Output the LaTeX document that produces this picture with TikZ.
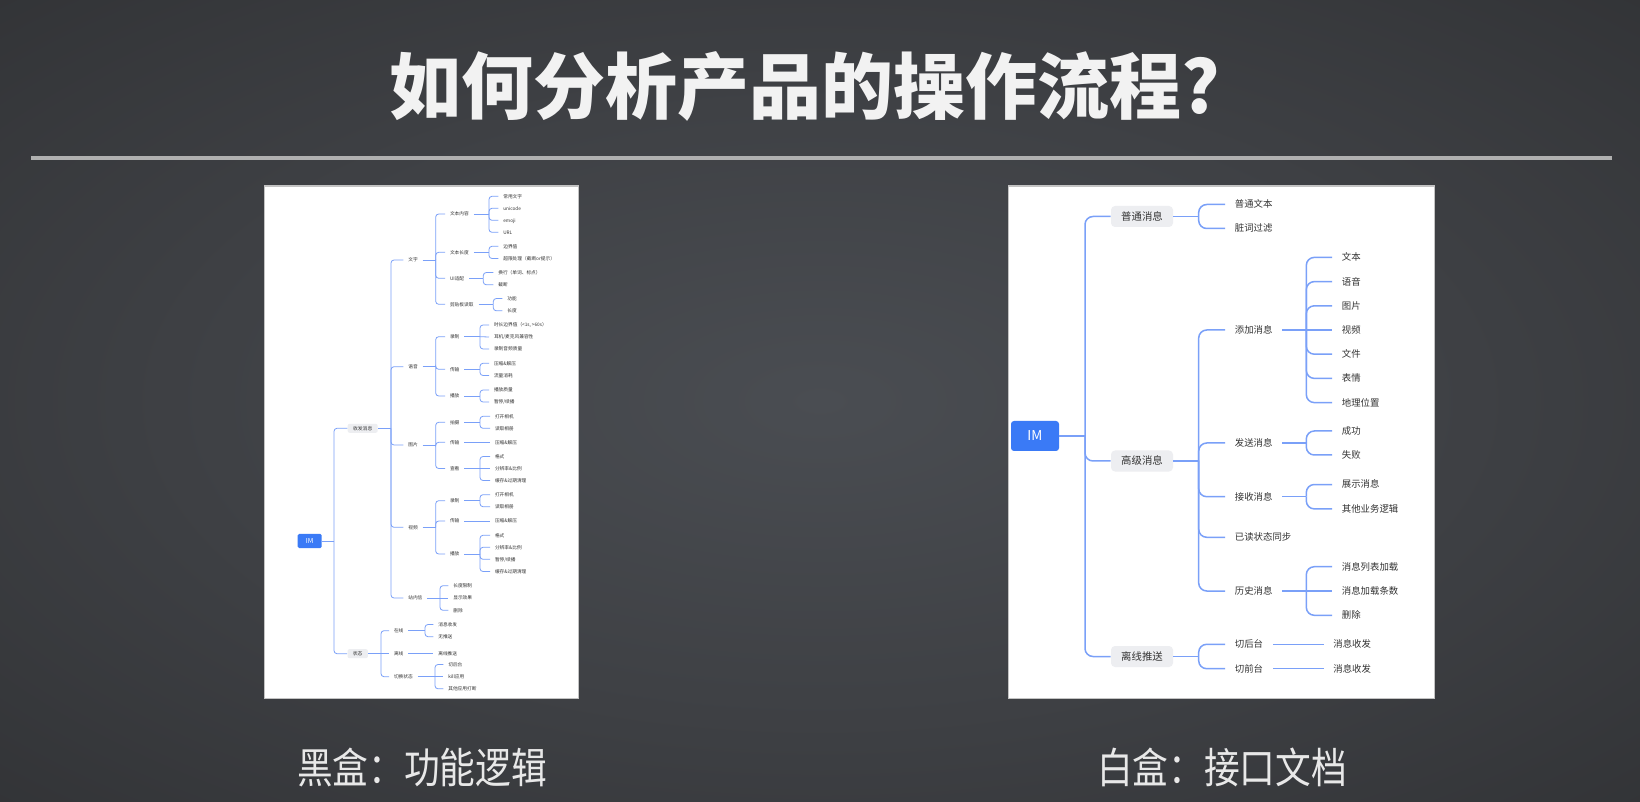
\documentclass[tikz,border=0pt]{standalone}
\usepackage{graphicx}
\usepackage{fontspec}
\setmainfont{Noto Sans CJK SC}
\usetikzlibrary{calc}

\definecolor{bgA}{RGB}{74,77,82}
\definecolor{bgB}{RGB}{62,64,68}
\definecolor{bgC}{RGB}{40,41,43}
\definecolor{bgD}{RGB}{30,31,32}
\definecolor{titlewhite}{RGB}{242,242,242}
\definecolor{labelwhite}{RGB}{232,232,232}
\definecolor{rulegrey}{RGB}{176,176,176}
\definecolor{panelrule}{RGB}{195,195,195}
\definecolor{linkblue}{RGB}{122,160,248}
\definecolor{imblue}{RGB}{58,122,246}
\definecolor{boxgrey}{RGB}{237,238,241}
\definecolor{ink}{RGB}{51,51,51}

\pgfdeclareradialshading{bgglow}{\pgfpoint{0bp}{0bp}}{%
  color(0bp)=(bgA); color(20bp)=(bgB); color(50bp)=(bgC); color(75bp)=(bgD)}

\newcommand\fsz[1]{\fontsize{#1}{#1}\selectfont}

% parent -> vertical fork at x=#2 -> each child (curved junctions)
\newcommand\mmfork[4]{%
  \draw[#3] (#1.east) -- (#1.east -| #2,0);
  \foreach \c in {#4} {\draw[#3] (#1.east -| #2,0) |- (\c.west);}%
}
% child sitting level with the fork point
\newcommand\mmflat[4]{%
  \foreach \c in {#4} {\draw[#3] (#1.east -| #2,0) -- (\c.west);}%
}

\tikzset{
  rim/.style={fill=imblue, rounded corners=1.5pt, minimum width=24pt,
    minimum height=15pt, inner sep=0pt, text=white, font=\fsz{6.8pt}},
  rbox/.style={fill=boxgrey, rounded corners=2pt, minimum width=31pt,
    minimum height=10.5pt, inner sep=0pt, text=ink, font=\fsz{5.2pt},
    text height=4.26pt, text depth=0.42pt},
  rtxt/.style={anchor=west, inner xsep=4.75pt, inner ysep=0.5pt, text=ink,
    font=\fsz{4.7pt}, text height=3.85pt, text depth=0.38pt},
  rlink/.style={draw=linkblue, line width=0.75pt, rounded corners=4pt},
  lim/.style={fill=imblue, rounded corners=0.8pt, minimum width=12pt,
    minimum height=7.15pt, inner sep=0pt, text=white, font=\fsz{3.4pt}},
  lbox/.style={fill=boxgrey, rounded corners=1pt, minimum height=4.5pt,
    inner xsep=2.7pt, inner ysep=0pt, text=ink, font=\fsz{2.4pt},
    text height=1.97pt, text depth=0.19pt},
  ltxt/.style={anchor=west, inner xsep=2.3pt, inner ysep=0.2pt, text=ink,
    font=\fsz{2.35pt}, text height=1.93pt, text depth=0.19pt},
  llink/.style={draw=linkblue, line width=0.4pt, rounded corners=1.5pt},
  panel/.style={fill=white, draw=panelrule, line width=0.75pt},
}

\begin{document}
\begin{tikzpicture}[x=0.5pt, y=-0.5pt]
\useasboundingbox (0,0) rectangle (1640,802);
\shade[shading=bgglow] (0,0) rectangle (1640,802);

% heading and rule
\node[font=\fsz{36pt}\bfseries, text=titlewhite, inner sep=0pt,
  text height=29.5pt, text depth=2.9pt] (title) at (805,87) {如何分析产品的操作流程?};
\fill[rulegrey] (31,155.6) rectangle (1612,160.4);

% the two sheets
\path[panel] (264.6,186.2) rectangle (578.4,698.7);
\path[panel] (1008.3,186.2) rectangle (1434.5,698.7);

% captions
\node[font=\fsz{21pt}, text=labelwhite, inner sep=0pt] (capL) at (422,767)
  {\scalebox{0.85}[1]{黑盒：功能逻辑}};
\node[font=\fsz{21pt}, text=labelwhite, inner sep=0pt] (capR) at (1222,767)
  {\scalebox{0.85}[1]{白盒：接口文档}};

% ---------------- interface map (right sheet) ----------------
\node[rim] (R) at (1035,436) {IM};
\node[rbox] (Ra) at (1142,216.5) {普通消息};
\node[rbox] (Rb) at (1142,461) {高级消息};
\node[rbox] (Rc) at (1142,656.5) {离线推送};
\mmfork{R}{1085}{rlink}{Ra,Rb,Rc}

\node[rtxt] (Ra1) at (1225,204.5) {普通文本};
\node[rtxt] (Ra2) at (1225,228.5) {脏词过滤};
\mmfork{Ra}{1198.7}{rlink}{Ra1,Ra2}

\node[rtxt] (Rb1) at (1225,330) {添加消息};
\node[rtxt] (Rb2) at (1225,443) {发送消息};
\node[rtxt] (Rb3) at (1225,496.7) {接收消息};
\node[rtxt] (Rb4) at (1225,537.3) {已读状态同步};
\node[rtxt] (Rb5) at (1225,591) {历史消息};
\mmfork{Rb}{1198.7}{rlink}{Rb1,Rb2,Rb3,Rb4,Rb5}

\node[rtxt] (Rb1a) at (1332,257.4) {文本};
\node[rtxt] (Rb1b) at (1332,281.6) {语音};
\node[rtxt] (Rb1c) at (1332,305.8) {图片};
\node[rtxt] (Rb1d) at (1332,330) {视频};
\node[rtxt] (Rb1e) at (1332,354.2) {文件};
\node[rtxt] (Rb1f) at (1332,378.4) {表情};
\node[rtxt] (Rb1g) at (1332,402.6) {地理位置};
\mmfork{Rb1}{1306.3}{rlink}{Rb1a,Rb1b,Rb1c,Rb1e,Rb1f,Rb1g}
\mmflat{Rb1}{1306.3}{rlink}{Rb1d}

\node[rtxt] (Rb2a) at (1332,431) {成功};
\node[rtxt] (Rb2b) at (1332,455) {失败};
\mmfork{Rb2}{1306.3}{rlink}{Rb2a,Rb2b}

\node[rtxt] (Rb3a) at (1332,484.5) {展示消息};
\node[rtxt] (Rb3b) at (1332,508.9) {其他业务逻辑};
\mmfork{Rb3}{1306.3}{rlink}{Rb3a,Rb3b}

\node[rtxt] (Rb5a) at (1332,566.7) {消息列表加载};
\node[rtxt] (Rb5b) at (1332,591) {消息加载条数};
\node[rtxt] (Rb5c) at (1332,615.3) {删除};
\mmfork{Rb5}{1306.3}{rlink}{Rb5a,Rb5c}
\mmflat{Rb5}{1306.3}{rlink}{Rb5b}

\node[rtxt] (Rc1) at (1225,644.3) {切后台};
\node[rtxt] (Rc2) at (1225,668.7) {切前台};
\mmfork{Rc}{1198.7}{rlink}{Rc1,Rc2}
\node[rtxt] (Rc1a) at (1323.5,644.3) {消息收发};
\node[rtxt] (Rc2a) at (1323.5,668.7) {消息收发};
\draw[rlink] (Rc1.east) -- (Rc1a.west);
\draw[rlink] (Rc2.east) -- (Rc2a.west);

% ---------------- feature map (left sheet) ----------------
\node[lim] (L) at (309.7,541) {IM};
\node[lbox] (La) at (362.7,428.3) {收发消息};
\node[lbox] (Lb) at (357.7,653.7) {状态};
\mmfork{L}{334}{llink}{La,Lb}

\node[ltxt] (La1) at (403.3,260) {文字};
\node[ltxt] (La2) at (403.3,366.7) {语音};
\node[ltxt] (La3) at (403.3,445) {图片};
\node[ltxt] (La4) at (403.3,527.3) {视频};
\node[ltxt] (La5) at (403.3,598) {站内信};
\mmfork{La}{391}{llink}{La1,La2,La3,La4,La5}

\node[ltxt] (La1a) at (445,214) {文本内容};
\node[ltxt] (La1b) at (445,252.3) {文本长度};
\node[ltxt] (La1c) at (445,278.3) {UI适配};
\node[ltxt] (La1d) at (445,304.3) {剪贴板读取};
\mmfork{La1}{435.7}{llink}{La1a,La1b,La1c,La1d}

\node[ltxt] (La1a1) at (498.3,196.3) {常用文字};
\node[ltxt] (La1a2) at (498.3,208.3) {unicode};
\node[ltxt] (La1a3) at (498.3,220.3) {emoji};
\node[ltxt] (La1a4) at (498.3,232.3) {URL};
\mmfork{La1a}{489}{llink}{La1a1,La1a2,La1a3,La1a4}

\node[ltxt] (La1b1) at (498.3,246.3) {边界值};
\node[ltxt] (La1b2) at (498.3,258.5) {超限处理（截断or提示）};
\mmfork{La1b}{489}{llink}{La1b1,La1b2}

\node[ltxt] (La1c1) at (493.3,272.5) {换行（单词、标点）};
\node[ltxt] (La1c2) at (493.3,284.8) {截断};
\mmfork{La1c}{483.3}{llink}{La1c1,La1c2}

\node[ltxt] (La1d1) at (502.3,298.5) {功能};
\node[ltxt] (La1d2) at (502.3,310.8) {长度};
\mmfork{La1d}{493.3}{llink}{La1d1,La1d2}

\node[ltxt] (La2a) at (445,336.7) {录制};
\node[ltxt] (La2b) at (445,369.3) {传输};
\node[ltxt] (La2c) at (445,396) {播放};
\mmfork{La2}{435.7}{llink}{La2a,La2b,La2c}

\node[ltxt] (La2a1) at (489,325) {时长边界值（<1s, >60s）};
\node[ltxt] (La2a2) at (489,337) {耳机/麦克风兼容性};
\node[ltxt] (La2a3) at (489,349) {录制音频质量};
\mmfork{La2a}{480}{llink}{La2a1,La2a3}
\mmflat{La2a}{480}{llink}{La2a2}

\node[ltxt] (La2b1) at (489,363.3) {压缩\&解压};
\node[ltxt] (La2b2) at (489,375.5) {流量消耗};
\mmfork{La2b}{480}{llink}{La2b1,La2b2}

\node[ltxt] (La2c1) at (489,390) {播放质量};
\node[ltxt] (La2c2) at (489,402) {暂停/续播};
\mmfork{La2c}{480}{llink}{La2c1,La2c2}

\node[ltxt] (La3a) at (445,422.3) {拍摄};
\node[ltxt] (La3b) at (445,442.3) {传输};
\node[ltxt] (La3c) at (445,468.5) {查看};
\mmfork{La3}{435.7}{llink}{La3a,La3b,La3c}

\node[ltxt] (La3a1) at (490,416.3) {打开相机};
\node[ltxt] (La3a2) at (490,428.3) {读取相册};
\mmfork{La3a}{480}{llink}{La3a1,La3a2}
\node[ltxt] (La3b1) at (490,442.3) {压缩\&解压};
\draw[llink] (La3b.east) -- (La3b1.west);
\node[ltxt] (La3c1) at (490,456.5) {格式};
\node[ltxt] (La3c2) at (490,468.5) {分辨率\&比例};
\node[ltxt] (La3c3) at (490,480.5) {缓存\&过期清理};
\mmfork{La3c}{480}{llink}{La3c1,La3c3}
\mmflat{La3c}{480}{llink}{La3c2}

\node[ltxt] (La4a) at (445,500.7) {录制};
\node[ltxt] (La4b) at (445,521) {传输};
\node[ltxt] (La4c) at (445,554) {播放};
\mmfork{La4}{435.7}{llink}{La4a,La4b,La4c}

\node[ltxt] (La4a1) at (490,494.7) {打开相机};
\node[ltxt] (La4a2) at (490,506.7) {读取相册};
\mmfork{La4a}{480}{llink}{La4a1,La4a2}
\node[ltxt] (La4b1) at (490,521) {压缩\&解压};
\draw[llink] (La4b.east) -- (La4b1.west);
\node[ltxt] (La4c1) at (490,535.3) {格式};
\node[ltxt] (La4c2) at (490,547.3) {分辨率\&比例};
\node[ltxt] (La4c3) at (490,559.3) {暂停/续播};
\node[ltxt] (La4c4) at (490,571.5) {缓存\&过期清理};
\mmfork{La4c}{480}{llink}{La4c1,La4c2,La4c3,La4c4}

\node[ltxt] (La5a) at (448.3,585.7) {长度限制};
\node[ltxt] (La5b) at (448.3,598) {显示效果};
\node[ltxt] (La5c) at (448.3,610.3) {删除};
\mmfork{La5}{440}{llink}{La5a,La5c}
\mmflat{La5}{440}{llink}{La5b}

\node[ltxt] (Lb1) at (389,630.7) {在线};
\node[ltxt] (Lb2) at (389,653.7) {离线};
\node[ltxt] (Lb3) at (389,676.7) {切换状态};
\mmfork{Lb}{381}{llink}{Lb1,Lb3}
\mmflat{Lb}{381}{llink}{Lb2}

\node[ltxt] (Lb1a) at (433.3,624.5) {消息收发};
\node[ltxt] (Lb1b) at (433.3,636.7) {无推送};
\mmfork{Lb1}{425}{llink}{Lb1a,Lb1b}
\node[ltxt] (Lb2a) at (433.3,653.7) {离线推送};
\draw[llink] (Lb2.east) -- (Lb2a.west);

\node[ltxt] (Lb3a) at (443.3,664.5) {切后台};
\node[ltxt] (Lb3b) at (443.3,676.7) {kill应用};
\node[ltxt] (Lb3c) at (443.3,688.8) {其他应用打断};
\mmfork{Lb3}{435}{llink}{Lb3a,Lb3c}
\mmflat{Lb3}{435}{llink}{Lb3b}
\end{tikzpicture}
\end{document}
